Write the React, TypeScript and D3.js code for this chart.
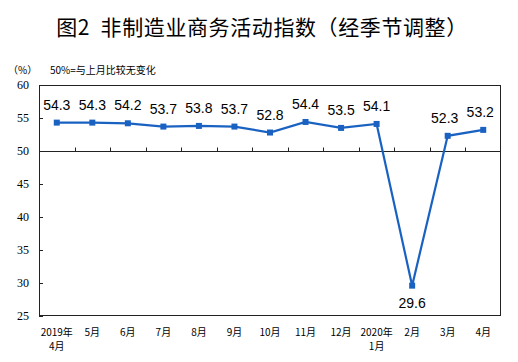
import { useEffect, useRef } from 'react';
import { select, scaleBand, scaleLinear, line } from 'd3';

const months = ['2019年|4月', '5月', '6月', '7月', '8月', '9月', '10月', '11月', '12月', '2020年|1月', '2月', '3月', '4月'];
const values = [54.3, 54.3, 54.2, 53.7, 53.8, 53.7, 52.8, 54.4, 53.5, 54.1, 29.6, 52.3, 53.2];
const yTicks = [25, 30, 35, 40, 45, 50, 55, 60];

const W = 518;
const H = 362;
const left = 39, right = 501, top = 85, bottom = 316;
const blue = '#1a62c2';

const App = () => {
  const svgRef = useRef<SVGSVGElement>(null);

  useEffect(() => {
    const svg = select(svgRef.current);
    svg.selectAll('*').remove();

    const x = scaleBand<number>().domain(months.map((_, i) => i)).range([left, right]);
    const y = scaleLinear().domain([25, 60]).range([bottom, top]);
    const cx = (i: number) => (x(i) as number) + x.bandwidth() / 2;

    svg.append('rect').attr('width', W).attr('height', H).attr('fill', '#fff');

    // title
    svg.append('text')
      .attr('x', 262).attr('y', 35)
      .attr('text-anchor', 'middle')
      .attr('xml:space', 'preserve')
      .style('white-space', 'pre')
      .style('font-family', '"Noto Sans CJK SC"')
      .style('font-size', '21px')
      .style('letter-spacing', '0.6px')
      .style('font-weight', 400)
      .text('图2  非制造业商务活动指数（经季节调整）');

    svg.append('text')
      .attr('x', 8).attr('y', 74)
      .style('font-family', '"Noto Sans CJK SC"')
      .style('font-size', '10px')
      .text('（%）');
    svg.append('text')
      .attr('x', 50).attr('y', 74)
      .style('font-family', '"Noto Sans CJK SC"')
      .style('font-size', '10px')
      .text('50%=与上月比较无变化');

    // frame
    svg.append('rect')
      .attr('x', left + 0.5).attr('y', top + 0.5)
      .attr('width', right - left - 1).attr('height', bottom - top - 1)
      .attr('fill', 'none').attr('stroke', '#222').attr('stroke-width', 1);

    // y ticks
    const yg = svg.append('g');
    yTicks.forEach((t) => {
      const yy = Math.round(y(t)) + 0.5;
      yg.append('line')
        .attr('x1', left).attr('x2', left + 4)
        .attr('y1', yy).attr('y2', yy)
        .attr('stroke', '#222');
      yg.append('text')
        .attr('x', 29).attr('y', y(t) + 4)
        .attr('text-anchor', 'end')
        .style('font-family', '"Liberation Serif"')
        .style('font-size', '12px')
        .text(t);
    });

    // x axis at 50
    const y50 = Math.round(y(50)) + 0.5;
    svg.append('line')
      .attr('x1', left).attr('x2', right)
      .attr('y1', y50).attr('y2', y50)
      .attr('stroke', '#222');
    months.forEach((_, i) => {
      if (i === 0) return;
      const xx = Math.round(x(i) as number) + 0.5;
      svg.append('line')
        .attr('x1', xx).attr('x2', xx)
        .attr('y1', y50).attr('y2', y50 - 4)
        .attr('stroke', '#222');
    });

    // x labels
    months.forEach((m, i) => {
      const parts = m.split('|');
      const t = svg.append('text')
        .attr('text-anchor', 'middle')
        .style('font-family', '"Noto Sans CJK SC"')
        .style('font-size', '10px');
      parts.forEach((p, k) => {
        t.append('tspan')
          .attr('x', cx(i))
          .attr('y', 336 + k * 14)
          .text(p);
      });
    });

    // line
    const path = line<number>()
      .x((_, i) => cx(i))
      .y((v) => y(v));
    svg.append('path')
      .datum(values)
      .attr('d', path)
      .attr('fill', 'none')
      .attr('stroke', blue)
      .attr('stroke-width', 2.2);

    svg.selectAll('.pt')
      .data(values)
      .join('rect')
      .attr('class', 'pt')
      .attr('x', (_, i) => cx(i) - 3)
      .attr('y', (v) => y(v) - 3)
      .attr('width', 6).attr('height', 6)
      .attr('fill', blue);

    svg.selectAll('.lbl')
      .data(values)
      .join('text')
      .attr('class', 'lbl')
      .attr('x', (_, i) => cx(i) - (i >= 11 ? 3 : 0))
      .attr('y', (v) => (v < 40 ? y(v) + 22 : y(v) - 13))
      .attr('text-anchor', 'middle')
      .style('font-family', '"Liberation Sans"')
      .style('font-size', '14px')
      .text((v) => v.toFixed(1));
  }, []);

  return (
    <div style={{ position: 'absolute', left: 0, top: 0 }}>
      <svg ref={svgRef} width={W} height={H} style={{ display: 'block' }} />
    </div>
  );
};

export default App;
